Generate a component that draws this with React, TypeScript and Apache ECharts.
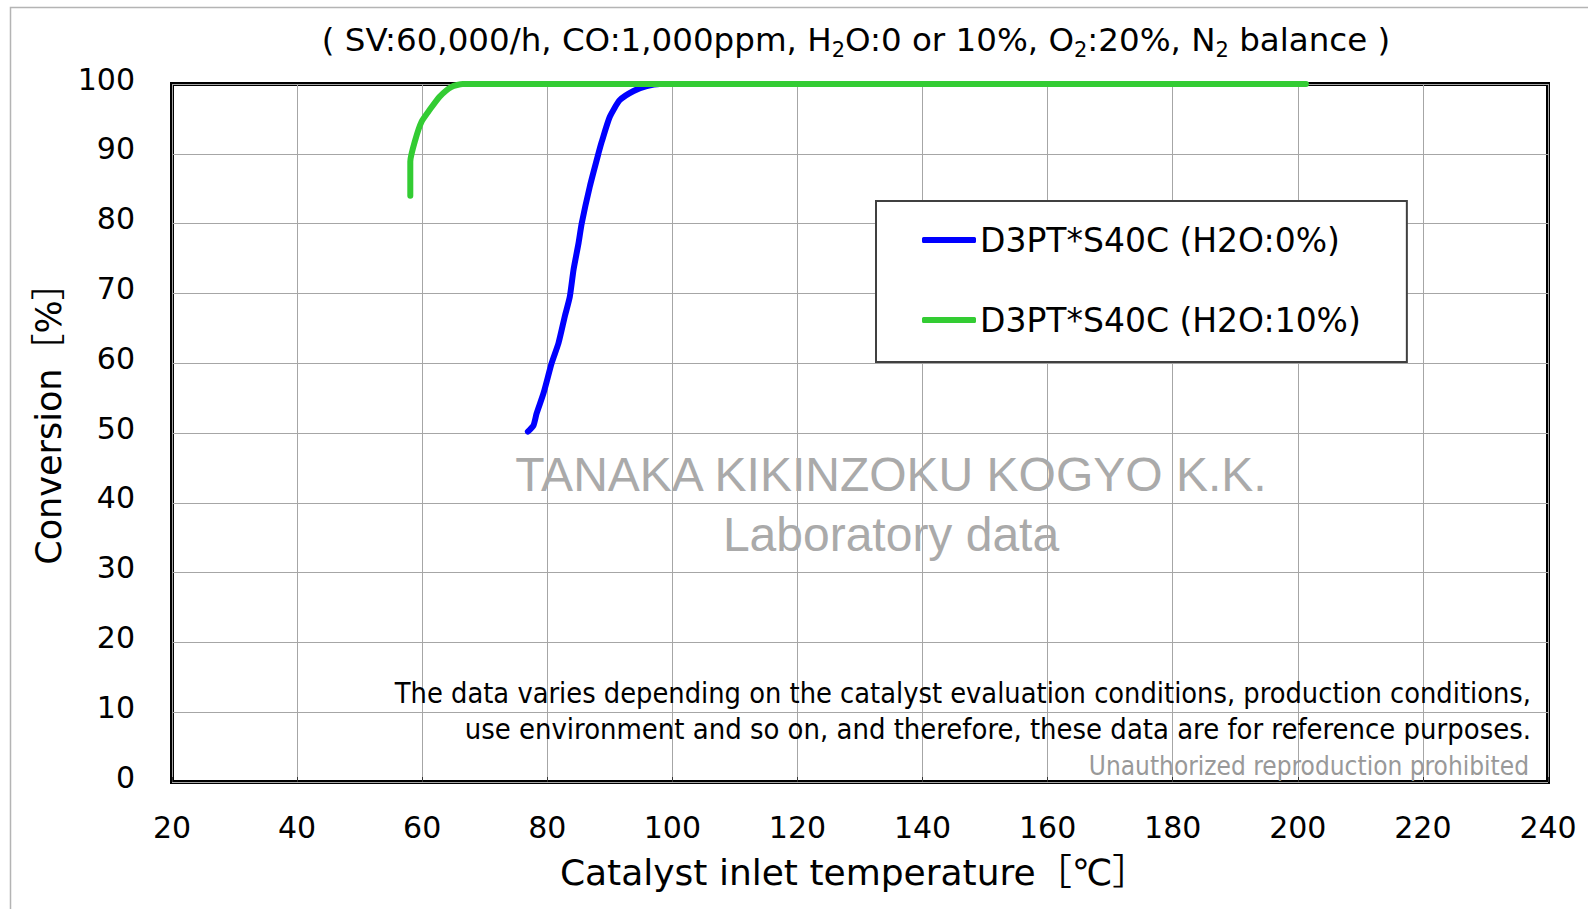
import React, { useEffect, useRef } from "react";
import * as echarts from "echarts";

const xMin = 20;
const xMax = 240;
const xStep = 20;
const yMin = 0;
const yMax = 100;
const yStep = 10;

const seriesNames = ["D3PT*S40C (H2O:0%)", "D3PT*S40C (H2O:10%)"];
const seriesColors = ["#0000ff", "#33cc33"];

// D3PT*S40C (H2O:0%)
const blueTemp = [76.9, 77.8, 78.3, 79.4, 80.7, 81.8, 82.8, 83.6, 84.2, 85.0, 85.5, 86.8, 88.2, 88.7, 90.0, 91.6, 93.8, 95.9, 98.0, 201.0];
const blueConv = [50.2, 51.1, 52.8, 55.7, 60.0, 62.9, 66.7, 69.5, 73.4, 77.2, 80.0, 85.3, 90.1, 91.7, 95.3, 97.7, 99.0, 99.7, 100, 100];

// D3PT*S40C (H2O:10%)
const greenTemp = [58.1, 58.1, 58.9, 59.9, 61.2, 62.8, 64.7, 66.5, 201.3];
const greenConv = [84.0, 88.9, 92.0, 94.6, 96.3, 98.2, 99.6, 100, 100];

const titleParts = ["( SV:60,000/h, CO:1,000ppm, H", "2", "O:0 or 10%, O", "2", ":20%, N", "2", " balance )"];
const xName = "Catalyst inlet temperature［℃］";
const yName = "Conversion［%］";
const watermark = ["TANAKA KIKINZOKU KOGYO K.K.", "Laboratory data"];
const disclaimer = [
  "The data varies depending on the catalyst evaluation conditions, production conditions,",
  "use environment and so on, and therefore, these data are for reference purposes.",
];
const notice = "Unauthorized reproduction prohibited";

const FONT = "'DejaVu Sans', 'Noto Sans CJK JP', sans-serif";
const FONT_C = "'DejaVu Sans Condensed', 'DejaVu Sans', sans-serif";

export default function App() {
  const ref = useRef<HTMLDivElement>(null);

  useEffect(() => {
    document.body.style.margin = "0";
    if (!ref.current) return;
    const chart = echarts.init(ref.current, undefined, { renderer: "svg" });

    const titleText = titleParts
      .map((p, i) => (i % 2 === 1 ? `{s|${p}}` : `{a|${p}}`))
      .join("");

    const option: any = {
      animation: false,
      backgroundColor: "#ffffff",
      title: {
        text: titleText,
        left: 851,
        top: 15,
        textAlign: "center",
        textStyle: {
          fontWeight: "normal",
          rich: {
            a: { fontFamily: FONT, fontSize: 32.5, fontWeight: "normal", color: "#000", lineHeight: 40 },
            s: { fontFamily: FONT, fontSize: 21, fontWeight: "normal", color: "#000", lineHeight: 20, verticalAlign: "bottom" },
          },
        },
      },
      grid: {
        left: 172,
        top: 84,
        width: 1376,
        height: 698,
        show: true,
        borderColor: "#000",
        borderWidth: 4,
        backgroundColor: "transparent",
      },
      legend: {
        orient: "vertical",
        left: 876,
        top: 201,
        padding: [19, 46, 22, 46],
        itemGap: 40,
        itemWidth: 54,
        itemHeight: 6,
        icon: "roundRect",
        backgroundColor: "#ffffff",
        borderColor: "#404040",
        borderWidth: 2,
        borderRadius: 0,
        data: seriesNames,
        textStyle: { fontFamily: FONT, fontSize: 33, color: "#000", lineHeight: 40, padding: [0, 0, 0, -1] },
      },
      xAxis: {
        type: "value",
        min: xMin,
        max: xMax,
        interval: xStep,
        name: xName,
        nameLocation: "middle",
        nameGap: 72,
        nameTextStyle: { fontFamily: FONT, fontSize: 36, color: "#000", padding: [0, 12, 0, 0] },
        axisLine: { show: false },
        axisTick: { show: true, inside: true, length: 5, lineStyle: { color: "#333" } },
        axisLabel: { fontFamily: FONT, fontSize: 30, color: "#000", margin: 30 },
        splitLine: { show: true, lineStyle: { color: "#a6a6a6", width: 1 } },
      },
      yAxis: {
        type: "value",
        min: yMin,
        max: yMax,
        interval: yStep,
        name: yName,
        nameLocation: "middle",
        nameGap: 93,
        nameTextStyle: { fontFamily: FONT, fontSize: 35, color: "#000", padding: [0, 0, 0, 36] },
        axisLine: { show: false },
        axisTick: { show: false },
        axisLabel: {
          fontFamily: FONT,
          fontSize: 30,
          color: "#000",
          margin: 37,
          verticalAlign: "bottom",
          lineHeight: 10,
        },
        splitLine: { show: true, lineStyle: { color: "#a6a6a6", width: 1 } },
      },
      series: [
        {
          name: seriesNames[0],
          type: "line",
          data: blueTemp.map((t, i) => [t, blueConv[i]]),
          showSymbol: false,
          clip: false,
          smooth: 0.2,
          color: seriesColors[0],
          lineStyle: { color: seriesColors[0], width: 6, cap: "round", join: "round" },
          z: 3,
        },
        {
          name: seriesNames[1],
          type: "line",
          data: greenTemp.map((t, i) => [t, greenConv[i]]),
          showSymbol: false,
          clip: false,
          smooth: 0.2,
          color: seriesColors[1],
          lineStyle: { color: seriesColors[1], width: 6, cap: "round", join: "round" },
          z: 4,
        },
      ],
      graphic: [
        {
          type: "rect",
          silent: true,
          z: -10,
          shape: { x: 10.5, y: 7.5, width: 1700, height: 1000 },
          style: { fill: "none", stroke: "#b4b4b4", lineWidth: 1.5 },
        },
        {
          type: "text",
          z: 1,
          x: 891,
          y: 474,
          style: {
            text: watermark[0],
            fontFamily: "'Liberation Sans', Arial, sans-serif",
            fontSize: 48,
            fill: "#aaaaaa",
            align: "center",
            verticalAlign: "middle",
          },
        },
        {
          type: "text",
          z: 1,
          x: 891,
          y: 534,
          style: {
            text: watermark[1],
            fontFamily: "'Liberation Sans', Arial, sans-serif",
            fontSize: 48,
            fill: "#aaaaaa",
            align: "center",
            verticalAlign: "middle",
          },
        },
        {
          type: "text",
          z: 1,
          x: 1531,
          y: 693,
          style: { text: disclaimer[0], fontFamily: FONT_C, fontSize: 28.7, fill: "#000", align: "right", verticalAlign: "middle" },
        },
        {
          type: "text",
          z: 1,
          x: 1531,
          y: 729,
          style: { text: disclaimer[1], fontFamily: FONT_C, fontSize: 28.9, fill: "#000", align: "right", verticalAlign: "middle" },
        },
        {
          type: "text",
          z: 1,
          x: 1529,
          y: 766,
          style: { text: notice, fontFamily: FONT_C, fontSize: 26, fill: "#999999", align: "right", verticalAlign: "middle" },
        },
      ],
    };

    chart.setOption(option);
    return () => chart.dispose();
  }, []);

  return <div ref={ref} style={{ width: 1588, height: 909 }} />;
}
